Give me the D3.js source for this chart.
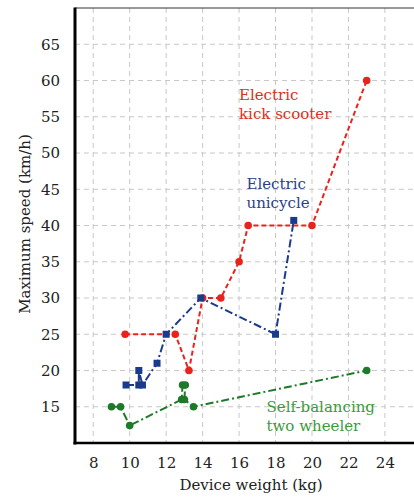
<!DOCTYPE html>
<html><head><meta charset="utf-8">
<script src="https://cdn.jsdelivr.net/npm/d3@7"></script>
<style>body{margin:0;background:#fff}svg{display:block}</style>
</head><body><div id="chart"></div>
<script>
const xTicks = [8,10,12,14,16,18,20,22,24];
const yTicks = [15,20,25,30,35,40,45,50,55,60,65];

const scooterX = [9.75,12.5,13.25,14,15,16,16.5,20,23];
const scooterY = [25,25,20,30,30,35,40,40,60];

const unicycleX = [9.8,10.5,10.5,10.7,11.5,12,13.9,18,19];
const unicycleY = [18,18,20,18,21,25,30,25,40.7];

const twoWheelX = [9,9.5,10,12.85,12.9,13.05,13,13.5,23];
const twoWheelY = [15,15,12.4,16,18,18,16,15,20];

const W = 414, H = 497;
const svg = d3.select("#chart").append("svg").attr("width", W).attr("height", H);
const font = "DejaVu Serif";

const x = d3.scaleLinear().domain([7, 26]).range([75, 75 + 19 * 18.23]);
const y = d3.scaleLinear().domain([10, 70]).range([443, 8]);

// grid
const g = svg.append("g");
g.selectAll(".vg").data(xTicks).join("line")
  .attr("x1", d => x(d)).attr("x2", d => x(d)).attr("y1", y(70)).attr("y2", y(10))
  .attr("stroke", "#c8c8c8").attr("stroke-width", 1).attr("stroke-dasharray", "5,4");
g.selectAll(".hg").data(yTicks).join("line")
  .attr("x1", x(7)).attr("x2", W).attr("y1", d => y(d)).attr("y2", d => y(d))
  .attr("stroke", "#c8c8c8").attr("stroke-width", 1).attr("stroke-dasharray", "5,4");

// frame
svg.append("line").attr("x1", x(7)).attr("x2", W).attr("y1", y(70)).attr("y2", y(70))
  .attr("stroke", "#333").attr("stroke-width", 1.2);

// axes
const xAxis = d3.axisBottom(x).tickValues(xTicks).tickSize(0).tickPadding(14);
const yAxis = d3.axisLeft(y).tickValues(yTicks).tickSize(0).tickPadding(15);
const gx = svg.append("g").attr("transform", `translate(0,${y(10)})`).call(xAxis);
const gy = svg.append("g").attr("transform", `translate(${x(7)},0)`).call(yAxis);
[gx, gy].forEach(a => {
  a.select(".domain").remove();
  a.selectAll("text").attr("font-family", font).attr("font-size", 15).attr("fill", "#222");
});
svg.append("line").attr("x1", x(7)).attr("x2", x(7)).attr("y1", y(70) - 0.5).attr("y2", y(10) + 1.5)
  .attr("stroke", "#000").attr("stroke-width", 3);
svg.append("line").attr("x1", x(7) - 1.5).attr("x2", W).attr("y1", y(10)).attr("y2", y(10))
  .attr("stroke", "#000").attr("stroke-width", 2.6);

// axis labels
svg.append("text").attr("x", 251).attr("y", 490).attr("text-anchor", "middle")
  .attr("font-family", font).attr("font-size", 15).attr("fill", "#222").text("Device weight (kg)");
svg.append("text").attr("transform", "translate(30,224) rotate(-90)").attr("text-anchor", "middle")
  .attr("font-family", font).attr("font-size", 15).attr("fill", "#222").text("Maximum speed (km/h)");

// series
const series = [
  {xs: scooterX, ys: scooterY, color: "#e8231b", dash: "5,3", marker: "circle"},
  {xs: unicycleX, ys: unicycleY, color: "#1a3a8c", dash: "8,3,2,3", marker: "square"},
  {xs: twoWheelX, ys: twoWheelY, color: "#1d7a28", dash: "8,3,2,3", marker: "circle"}
];
const line = d3.line().x(d => x(d[0])).y(d => y(d[1]));
series.forEach(s => {
  const pts = s.xs.map((v, i) => [v, s.ys[i]]);
  svg.append("path").datum(pts).attr("d", line).attr("fill", "none")
    .attr("stroke", s.color).attr("stroke-width", 2).attr("stroke-dasharray", s.dash);
  if (s.marker === "circle") {
    svg.append("g").selectAll("circle").data(pts).join("circle")
      .attr("cx", d => x(d[0])).attr("cy", d => y(d[1])).attr("r", 3.8).attr("fill", s.color);
  } else {
    svg.append("g").selectAll("rect").data(pts).join("rect")
      .attr("x", d => x(d[0]) - 3.5).attr("y", d => y(d[1]) - 3.5)
      .attr("width", 7).attr("height", 7).attr("fill", s.color);
  }
});

// annotations
const notes = [
  {lines: ["Electric", "kick scooter"], x: 239, y: 100, color: "#dc3022"},
  {lines: ["Electric", "unicycle"], x: 246.5, y: 189, color: "#2b3f88"},
  {lines: ["Self-balancing", "two wheeler"], x: 266.5, y: 411.5, color: "#3c9a3c"}
];
notes.forEach(n => {
  const t = svg.append("text").attr("font-family", font).attr("font-size", 15).attr("fill", n.color);
  n.lines.forEach((l, i) => t.append("tspan").attr("x", n.x).attr("y", n.y + i * 19).text(l));
});
</script></body></html>
